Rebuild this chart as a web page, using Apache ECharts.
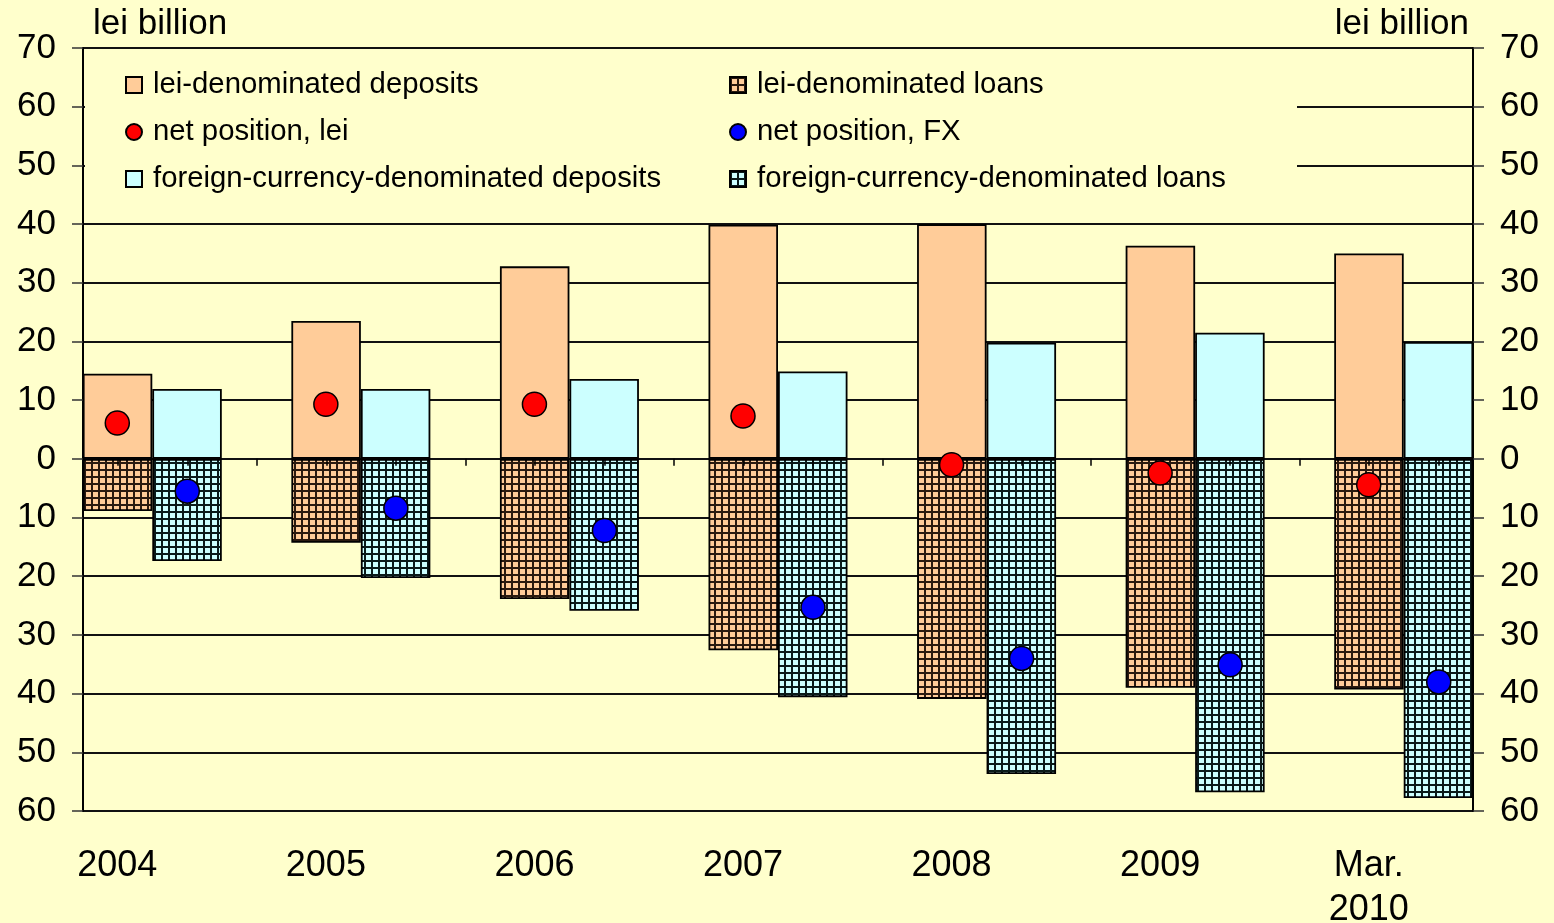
<!DOCTYPE html>
<html>
<head>
<meta charset="utf-8">
<script src="https://cdn.jsdelivr.net/npm/echarts@6/dist/echarts.min.js"></script>
<style>
  html, body { margin: 0; padding: 0; background: #FFFFCC; }
  #chart { width: 1554px; height: 923px; }
</style>
</head>
<body>
<div id="chart"></div>
<script>
  // categories and values (lei billion)
  const categories = ['2004', '2005', '2006', '2007', '2008', '2009', 'Mar.\n2010']
  const leiDeposits = [14.5, 23.5, 32.8, 39.9, 40.0, 36.3, 35.0]
  const leiLoans = [-8.9, -14.3, -23.9, -32.6, -40.9, -39.0, -39.3]
  const fxDeposits = [11.9, 11.9, 13.6, 14.9, 19.8, 21.5, 19.9]
  const fxLoans = [-17.4, -20.3, -25.9, -40.6, -53.7, -56.8, -57.8]
  const netLei = [6.1, 9.3, 9.3, 7.3, -1.0, -2.4, -4.4]
  const netFx = [-5.5, -8.4, -12.2, -25.3, -34.0, -35.1, -38.0]

  const yMin = -60
  const yMax = 70
  const yStep = 10
  const unitLabel = 'lei billion'
  // small tick marks along the zero line (one per bar slot)
  const zeroTickSlots = new Array(20).fill('')

  const font = "'Liberation Sans', Arial, sans-serif"

  // grid pattern fill for the loan bars
  function gridPattern (bg, line, step, lw) {
    const c = document.createElement('canvas')
    c.width = step
    c.height = step
    const ctx = c.getContext('2d')
    ctx.fillStyle = bg
    ctx.fillRect(0, 0, step, step)
    ctx.fillStyle = line
    ctx.fillRect(0, 0, step, lw)
    ctx.fillRect(0, 0, lw, step)
    return { image: c, repeat: 'repeat' }
  }

  const leiLoanFill = gridPattern('#FFCC99', '#2a1a10', 7, 2)
  const fxLoanFill = gridPattern('#CCFFFF', '#0a1a1a', 7, 2)

  const myChart = echarts.init(document.getElementById('chart'))

  const yLabel = {
    color: '#000',
    fontSize: 35,
    fontFamily: font,
    margin: 27,
    formatter: function (v) { return Math.abs(v) }
  }

  const barBorder = { borderColor: '#000', borderWidth: 1.8 }

  const legendText = { fontSize: 29.3, color: '#000', fontFamily: font, lineHeight: 30, padding: [0, 0, 0, 6] }

  const option = {
    animation: false,
    backgroundColor: '#FFFFCC',
    textStyle: { fontFamily: font },
    grid: [
      // frame, y axes, grid lines
      { left: 83, right: 81, top: 48, bottom: 112, outerBoundsMode: 'none', show: true, borderColor: '#000', borderWidth: 2, backgroundColor: 'transparent' },
      // bars and category labels
      { left: 48, right: 46, top: 48, bottom: 112, outerBoundsMode: 'none' }
    ],
    graphic: [
      {
        type: 'rect',
        z: 1,
        shape: { x: 85, y: 58, width: 1212, height: 142 },
        style: { fill: '#FFFFCC' }
      }
    ],
    legend: [
      {
        orient: 'vertical',
        left: 125,
        top: 70,
        padding: 0,
        itemGap: 17,
        itemWidth: 16,
        itemHeight: 16,
        selectedMode: false,
        textStyle: legendText,
        data: [
          { name: 'lei-denominated deposits', icon: 'rect' },
          { name: 'net position, lei', icon: 'circle' },
          { name: 'foreign-currency-denominated deposits', icon: 'rect' }
        ]
      },
      {
        orient: 'vertical',
        left: 729,
        top: 70,
        padding: 0,
        itemGap: 17,
        itemWidth: 16,
        itemHeight: 16,
        selectedMode: false,
        textStyle: legendText,
        data: [
          { name: 'lei-denominated loans', icon: 'rect' },
          { name: 'net position, FX', icon: 'circle' },
          { name: 'foreign-currency-denominated loans', icon: 'rect' }
        ]
      }
    ],
    xAxis: [
      {
        gridIndex: 0,
        type: 'category',
        data: zeroTickSlots,
        z: 5,
        axisLine: { show: false, onZero: true },
        axisTick: { show: true, alignWithLabel: true, length: 7, lineStyle: { color: '#000', width: 1.5 } },
        axisLabel: { show: false },
        splitLine: { show: false }
      },
      {
        gridIndex: 1,
        type: 'category',
        data: categories,
        axisLine: { show: false, onZero: false },
        axisTick: { show: false },
        axisLabel: {
          color: '#000',
          fontSize: 36,
          fontFamily: font,
          lineHeight: 44,
          margin: 33,
          interval: 0,
          padding: [0, 70, 0, 0]
        },
        splitLine: { show: false }
      }
    ],
    yAxis: [
      {
        gridIndex: 0,
        type: 'value',
        position: 'left',
        min: yMin,
        max: yMax,
        interval: yStep,
        name: unitLabel,
        nameLocation: 'end',
        nameGap: 6,
        nameTextStyle: { color: '#000', fontSize: 35, fontFamily: font, align: 'left', padding: [0, 0, 0, 10] },
        axisLine: { show: true, lineStyle: { color: '#000', width: 2 } },
        axisTick: { show: true, length: 11, lineStyle: { color: '#333', width: 1.5 } },
        axisLabel: yLabel,
        splitLine: { show: true, lineStyle: { color: '#111', width: 2 } }
      },
      {
        gridIndex: 0,
        type: 'value',
        position: 'right',
        min: yMin,
        max: yMax,
        interval: yStep,
        name: unitLabel,
        nameLocation: 'end',
        nameGap: 6,
        nameTextStyle: { color: '#000', fontSize: 35, fontFamily: font, align: 'right', padding: [0, 4, 0, 0] },
        axisLine: { show: true, lineStyle: { color: '#000', width: 2 } },
        axisTick: { show: true, length: 11, lineStyle: { color: '#333', width: 1.5 } },
        axisLabel: yLabel,
        splitLine: { show: false }
      },
      {
        gridIndex: 1,
        type: 'value',
        min: yMin,
        max: yMax,
        interval: yStep,
        show: false
      }
    ],
    series: [
      {
        name: 'lei-denominated deposits',
        type: 'bar',
        xAxisIndex: 1,
        yAxisIndex: 2,
        stack: 'lei',
        barWidth: 69.5,
        barGap: '0%',
        itemStyle: Object.assign({ color: '#FFCC99' }, barBorder),
        data: leiDeposits
      },
      {
        name: 'lei-denominated loans',
        type: 'bar',
        xAxisIndex: 1,
        yAxisIndex: 2,
        stack: 'lei',
        barWidth: 69.5,
        barGap: '0%',
        itemStyle: Object.assign({ color: leiLoanFill }, barBorder),
        data: leiLoans
      },
      {
        name: 'foreign-currency-denominated deposits',
        type: 'bar',
        xAxisIndex: 1,
        yAxisIndex: 2,
        stack: 'fx',
        barWidth: 69.5,
        barGap: '0%',
        itemStyle: Object.assign({ color: '#CCFFFF' }, barBorder),
        data: fxDeposits
      },
      {
        name: 'foreign-currency-denominated loans',
        type: 'bar',
        xAxisIndex: 1,
        yAxisIndex: 2,
        stack: 'fx',
        barWidth: 69.5,
        barGap: '0%',
        itemStyle: Object.assign({ color: fxLoanFill }, barBorder),
        data: fxLoans
      },
      {
        name: 'net position, lei',
        type: 'scatter',
        xAxisIndex: 1,
        yAxisIndex: 2,
        symbol: 'circle',
        symbolSize: 24,
        symbolOffset: [-35, 0],
        z: 6,
        itemStyle: { color: '#FF0000', borderColor: '#000', borderWidth: 1.5, opacity: 1 },
        data: netLei
      },
      {
        name: 'net position, FX',
        type: 'scatter',
        xAxisIndex: 1,
        yAxisIndex: 2,
        symbol: 'circle',
        symbolSize: 24,
        symbolOffset: [35, 0],
        z: 6,
        itemStyle: { color: '#0000FF', borderColor: '#000', borderWidth: 1.5, opacity: 1 },
        data: netFx
      }
    ]
  }

  myChart.setOption(option)
</script>
</body>
</html>
